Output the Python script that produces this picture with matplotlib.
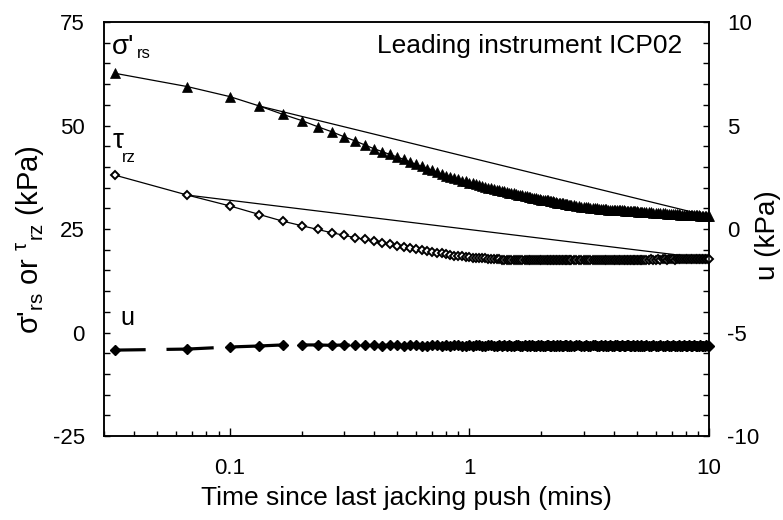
import matplotlib

matplotlib.use("Agg")
import matplotlib.pyplot as plt
import numpy as np
from matplotlib.ticker import FixedLocator, LogLocator, MultipleLocator, NullFormatter

plt.rcParams["font.family"] = ["Liberation Sans", "DejaVu Sans"]
plt.rcParams["mathtext.fontset"] = "custom"
plt.rcParams["mathtext.rm"] = "Liberation Sans"
plt.rcParams["mathtext.it"] = "Liberation Sans:italic"
plt.rcParams["axes.unicode_minus"] = False
plt.rcParams["lines.scale_dashes"] = False

# logger sample number (one reading every 2 s), thinned out at long times
samples = np.r_[1:81, 82:161:2, 164:301:4]
time_min = samples / 30.0

# radial stress sigma'_rs (kPa, left axis)
sig_early = [
    62.6, 59.4, 57.0, 54.7, 52.7, 51.2, 49.7, 48.5, 47.3, 46.3, 45.3, 44.4,
    43.7, 43.0, 42.4, 41.8, 41.2, 40.6, 40.1, 39.6, 39.2, 38.7, 38.3, 37.9,
    37.6, 37.3, 37.0, 36.7, 36.5, 36.2, 36.0, 35.8, 35.6, 35.4, 35.2, 35.0,
    34.9, 34.7, 34.5, 34.4, 34.2, 34.1, 34.0, 33.8, 33.7, 33.6, 33.4, 33.3,
    33.2, 33.1, 33.0, 32.9, 32.8, 32.7, 32.6, 32.5, 32.4, 32.3, 32.2, 32.1,
    32.0, 32.0, 31.9, 31.9, 31.8, 31.7, 31.7, 31.6, 31.5, 31.4,
    31.4, 31.3, 31.2, 31.2, 31.1, 31.0, 31.0, 30.9, 30.9, 30.8,
]
sig_mid = [
    30.7, 30.6, 30.5, 30.4, 30.3, 30.3, 30.2, 30.1, 30.1, 30.0,
    30.0, 29.9, 29.9, 29.8, 29.8, 29.8, 29.7, 29.7, 29.7, 29.6,
    29.6, 29.6, 29.5, 29.5, 29.5, 29.5, 29.4, 29.4, 29.4, 29.4,
    29.3, 29.3, 29.3, 29.3, 29.3, 29.2, 29.2, 29.2, 29.1, 29.1,
]
sig_late = [
    29.1, 29.0, 29.0, 28.9, 28.9, 28.8, 28.8, 28.8, 28.8, 28.7,
    28.7, 28.7, 28.6, 28.6, 28.6, 28.6, 28.5, 28.5, 28.5, 28.5,
    28.4, 28.4, 28.4, 28.4, 28.3, 28.3, 28.3, 28.3, 28.2, 28.2,
    28.2, 28.2, 28.1, 28.1, 28.1,
]

# shear stress tau_rz (kPa, left axis)
tau_early = [
    38.0, 33.2, 30.6, 28.5, 26.9, 25.8, 24.9, 24.1, 23.5, 22.9, 22.5, 22.1,
    21.7, 21.3, 21.0, 20.7, 20.4, 20.2, 19.9, 19.7, 19.5, 19.3, 19.1, 18.9,
    18.7, 18.6, 18.5, 18.4, 18.3, 18.2, 18.1, 18.0, 18.0, 17.9, 17.9, 17.8,
    17.8, 17.7, 17.7, 17.7, 17.6, 17.6, 17.6, 17.6, 17.5, 17.5, 17.4, 17.5,
    17.5, 17.4, 17.5, 17.5, 17.4, 17.5, 17.5, 17.4, 17.5, 17.5, 17.4, 17.5,
    17.5, 17.4, 17.5, 17.6, 17.4, 17.5, 17.5, 17.4, 17.6, 17.5,
    17.4, 17.5, 17.5, 17.6, 17.4, 17.5, 17.5, 17.4, 17.6, 17.5,
]
tau_mid = [
    17.5, 17.4, 17.5, 17.6, 17.5, 17.4, 17.5, 17.5, 17.6, 17.5,
    17.5, 17.4, 17.5, 17.6, 17.5, 17.5, 17.4, 17.5, 17.6, 17.5,
    17.5, 17.5, 17.6, 17.5, 17.5, 17.6, 17.5, 17.5, 17.6, 17.5,
    17.6, 17.5, 17.6, 17.6, 17.5, 17.6, 17.6, 17.5, 17.6, 17.6,
]
tau_late = [
    17.6, 17.6, 17.7, 17.6, 17.6, 17.7, 17.6, 17.7, 17.7, 17.6,
    17.7, 17.7, 17.7, 17.6, 17.7, 17.7, 17.8, 17.7, 17.7, 17.8,
    17.7, 17.7, 17.8, 17.8, 17.7, 17.8, 17.8, 17.8, 17.7, 17.8,
    17.8, 17.8, 17.8, 17.8, 17.8,
]

# pore pressure u (kPa, right axis)
u_early = [
    -5.85, -5.80, -5.70, -5.65, -5.60, -5.60, -5.60, -5.62, -5.60, -5.62,
    -5.60, -5.62, -5.63, -5.60, -5.62, -5.65, -5.62, -5.60, -5.63, -5.65,
    -5.62, -5.60, -5.63, -5.62, -5.65, -5.62, -5.60, -5.63, -5.65, -5.62,
    -5.63, -5.60, -5.62, -5.65, -5.63, -5.62, -5.60, -5.63, -5.65, -5.62,
    -5.63, -5.60, -5.65, -5.62, -5.63, -5.65, -5.62, -5.60, -5.63, -5.65,
    -5.62, -5.63, -5.60, -5.65, -5.62, -5.63, -5.65, -5.62, -5.63, -5.60,
    -5.63, -5.65, -5.62, -5.60, -5.63, -5.65, -5.62, -5.63, -5.65, -5.60,
    -5.63, -5.62, -5.65, -5.63, -5.62, -5.60, -5.65, -5.63, -5.62, -5.65,
]
u_mid = [
    -5.63, -5.60, -5.62, -5.65, -5.63, -5.62, -5.65, -5.63, -5.60, -5.62,
    -5.65, -5.63, -5.62, -5.65, -5.60, -5.63, -5.65, -5.62, -5.63, -5.65,
    -5.62, -5.60, -5.63, -5.65, -5.62, -5.63, -5.65, -5.62, -5.60, -5.63,
    -5.65, -5.62, -5.63, -5.65, -5.62, -5.63, -5.65, -5.60, -5.63, -5.65,
]
u_late = [
    -5.62, -5.63, -5.65, -5.62, -5.63, -5.65, -5.62, -5.63, -5.65, -5.62,
    -5.63, -5.65, -5.60, -5.63, -5.65, -5.62, -5.63, -5.65, -5.62, -5.63,
    -5.65, -5.62, -5.63, -5.65, -5.62, -5.63, -5.65, -5.63, -5.62, -5.65,
    -5.63, -5.65, -5.62, -5.63, -5.65,
]

sig_rs = np.array(sig_early + sig_mid + sig_late)
tau_rz = np.array(tau_early + tau_mid + tau_late)
u_pore = np.array(u_early + u_mid + u_late)

fig = plt.figure(figsize=(7.83, 5.2), dpi=100)
ax = fig.add_axes([0.133, 0.1615, 0.7725, 0.7962])
ax.set_xscale("log")

ax.plot(time_min, sig_rs, color="black", lw=0.9, marker="^", ms=6.5,
        mfc="black", mec="black", mew=0.5, clip_on=False, zorder=3)
ax.plot(time_min, tau_rz, color="black", lw=0.9, marker="D", ms=4.4,
        mfc="white", mec="black", mew=1.4, clip_on=False, zorder=3)
# straight chords to the 10 min reading
ax.plot(time_min[[3, -1]], sig_rs[[3, -1]], color="black", lw=0.9, zorder=2)
ax.plot(time_min[[1, -1]], tau_rz[[1, -1]], color="black", lw=0.9, zorder=2)

ax.set_xlim(0.03, 10)
ax.set_ylim(-25, 75)
ax.xaxis.set_major_locator(FixedLocator([0.1, 1, 10]))
ax.set_xticklabels(["0.1", "1", "10"])
ax.xaxis.set_minor_locator(LogLocator(base=10, subs=np.arange(2, 10)))
ax.xaxis.set_minor_formatter(NullFormatter())
ax.yaxis.set_major_locator(MultipleLocator(25))
ax.yaxis.set_minor_locator(MultipleLocator(5))

ax2 = ax.twinx()
ax2.plot(time_min, u_pore, color="black", lw=2.3, ls=(12, (34, 15)),
         marker="D", ms=5, mfc="black", mec="black", clip_on=False, zorder=3)
ax2.set_ylim(-10, 10)
ax2.yaxis.set_major_locator(MultipleLocator(5))
ax2.yaxis.set_minor_locator(MultipleLocator(1))

for a in (ax, ax2):
    for s in a.spines.values():
        s.set_linewidth(1.1)
ax.tick_params(axis="both", which="both", direction="in", labelsize=16,
               top=False, right=False, width=1.0)
ax.tick_params(axis="y", which="major", length=4, pad=14)
ax.tick_params(axis="y", which="minor", length=4)
ax.tick_params(axis="x", which="major", length=6, pad=16)
ax.tick_params(axis="x", which="minor", length=3.5)
ax2.tick_params(axis="y", which="both", direction="in", labelsize=16, width=1.0)
ax2.tick_params(axis="y", which="major", length=4, pad=13)
ax2.tick_params(axis="y", which="minor", length=4)

ax.set_xlabel("Time since last jacking push (mins)", fontsize=19, labelpad=5)
ax.set_ylabel(r"σ'$_{\mathrm{rs}}$ or $^{\mathrm{τ}}$$_{\mathrm{rz}}$ (kPa)",
              fontsize=21, va="center")
ax.yaxis.set_label_coords(-0.122, 0.475)
ax2.set_ylabel("u (kPa)", fontsize=20, va="center")
ax2.yaxis.set_label_coords(1.0975, 0.486)

ax.text(0.0322, 69, "σ'", fontsize=20, ha="left", va="center")
ax.text(0.0411, 67.5, "rs", fontsize=12, ha="left", va="center")
ax.text(0.0326, 46.3, "τ", fontsize=20, ha="left", va="center")
ax.text(0.0357, 42.3, "rz", fontsize=12, ha="left", va="center")
ax.text(0.035, 3.5, "u", fontsize=18, ha="left", va="center")
ax.text(0.955, 0.942, "Leading instrument ICP02", transform=ax.transAxes,
        fontsize=19, ha="right", va="center")

fig.savefig("out.png", dpi=100)
